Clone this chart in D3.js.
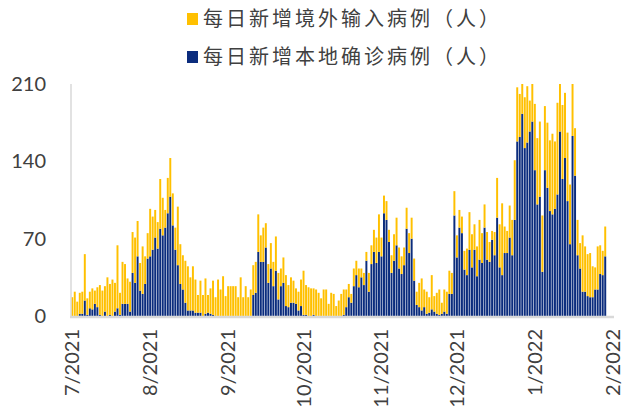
<!DOCTYPE html>
<html>
<head>
<meta charset="utf-8">
<script src="https://cdn.jsdelivr.net/npm/d3@7"></script>
<style>
  body { margin: 0; background: #fff; }
  text { font-family: Lato, "Liberation Sans", sans-serif; fill: #404040; }
  .legend text { font-family: "Noto Sans CJK SC", sans-serif; fill: #404040; }
</style>
</head>
<body>
<svg width="632" height="412"></svg>
<script>
// daily new cases, 2021-07-01 .. 2022-01-30
var local = [
  0,0,0,2,2,14,1,7,6,11,8,1,0,4,0,1,0,4,7,1,11,11,11,4,39,30,54,23,20,29,
  52,54,60,71,61,79,73,80,93,108,82,60,46,29,24,12,5,5,5,3,3,3,0,2,3,2,1,0,0,0,
  0,0,0,0,0,0,0,0,0,0,0,0,19,21,58,49,49,62,30,43,27,41,15,27,30,9,8,12,12,11,
  5,9,1,1,0,0,1,0,0,0,0,0,0,0,0,0,0,0,1,8,17,12,27,37,26,35,28,50,22,47,
  58,48,58,54,93,87,67,39,50,64,43,38,46,79,57,70,32,10,8,5,8,2,3,6,4,2,1,2,
  4,2,20,20,91,53,80,75,42,37,60,44,60,36,51,48,80,51,49,69,55,89,44,37,57,57,
  71,55,87,158,162,183,152,157,167,176,132,101,108,40,132,116,95,92,97,110,167,124,143,104,65,163,
  127,55,43,22,22,18,17,17,24,24,38,37,54
];
var imported = [
  17,22,13,19,20,42,15,15,19,12,18,27,23,23,35,28,33,26,57,20,38,36,23,27,37,41,32,25,43,25,
  23,43,30,25,24,45,34,16,32,35,29,20,53,36,31,38,40,30,40,30,16,29,19,32,16,23,31,17,33,24,
  36,18,27,27,27,27,17,35,17,27,17,24,27,28,34,24,31,22,17,23,22,31,24,16,23,28,20,23,20,14,
  17,24,40,27,26,25,24,24,21,16,24,24,11,21,20,9,14,20,23,16,12,8,16,13,17,8,11,8,17,17,
  20,23,34,17,16,17,11,16,24,25,19,16,16,19,18,19,20,12,22,29,16,20,14,31,14,19,23,10,
  20,20,21,19,22,20,16,15,17,24,34,30,23,27,36,27,21,25,18,8,21,36,39,65,24,20,
  29,32,54,49,39,27,46,51,28,34,60,60,68,51,58,59,64,73,61,83,43,67,59,62,54,47,
  43,32,23,51,41,38,40,28,20,39,26,22,27
];
var monthLabels = ["7/2021", "8/2021", "9/2021", "10/2021", "11/2021", "12/2021", "1/2022", "2/2022"];
var monthStart = [0, 31, 62, 92, 123, 153, 184, 215];
var nDays = 216;
var yTicks = [0, 70, 140, 210];

var svg = d3.select("svg");

var x = d3.scaleBand()
  .domain(d3.range(nDays))
  .range([71, 614])
  .paddingInner(0.22)
  .paddingOuter(0.1);

var y = d3.scaleLinear().domain([0, 210]).range([316, 84]);

var rows = local.map((v, i) => ({ i: i, local: v, imported: imported[i] }));
var stack = d3.stack().keys(["local", "imported"])(rows);
var colors = { local: "#0b2c7d", imported: "#ffc000" };

svg.append("g")
  .selectAll("g").data(stack).enter()
  .append("g")
    .attr("fill", d => colors[d.key])
  .selectAll("rect").data(d => d).enter()
  .append("rect")
    .attr("x", d => x(d.data.i))
    .attr("width", x.bandwidth())
    .attr("y", d => y(Math.min(210, d[1])))
    .attr("height", d => Math.max(0, y(d[0]) - y(Math.min(210, d[1]))));

// axes lines
svg.append("line")
  .attr("x1", 71).attr("x2", 71)
  .attr("y1", y(210)).attr("y2", y(0))
  .attr("stroke", "#d9d9d9").attr("stroke-width", 1.5);

svg.append("line")
  .attr("x1", 70).attr("x2", 614)
  .attr("y1", y(0) + 1).attr("y2", y(0) + 1)
  .attr("stroke", "#d9d9d9").attr("stroke-width", 2.5);

// y tick labels
svg.append("g")
  .selectAll("text").data(yTicks).enter()
  .append("text")
    .attr("x", 46)
    .attr("y", d => y(d))
    .attr("dy", "0.35em")
    .attr("text-anchor", "end")
    .style("font-size", "20px")
    .text(d => d);

// x labels, rotated
svg.append("g")
  .selectAll("text").data(monthStart).enter()
  .append("text")
    .attr("transform", d => `translate(${x(d) + x.bandwidth() / 2 + 7},329) rotate(-90)`)
    .attr("text-anchor", "end")
    .style("font-size", "20px")
    .text((d, i) => monthLabels[i]);

// legend
var legendItems = [
  { name: "每日新增境外输入病例（人）", color: colors.imported },
  { name: "每日新增本地确诊病例（人）", color: colors.local }
];
var legend = svg.append("g").attr("class", "legend")
  .selectAll("g").data(legendItems).enter()
  .append("g")
    .attr("transform", (d, i) => `translate(187,${19 + i * 38})`);

legend.append("rect")
  .attr("x", 0).attr("y", -6)
  .attr("width", 11).attr("height", 12)
  .attr("fill", d => d.color);

legend.append("text")
  .attr("x", 16)
  .attr("dy", "0.36em")
  .style("font-size", "20px")
  .style("letter-spacing", "3px")
  .text(d => d.name);
</script>
</body>
</html>
